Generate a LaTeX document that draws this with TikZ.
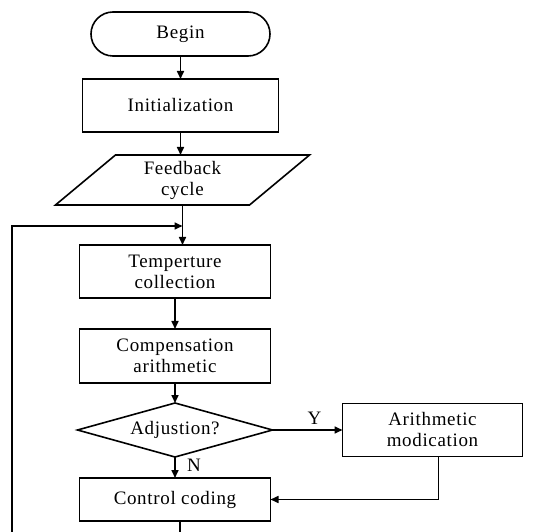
\documentclass[tikz,border=0pt]{standalone}
\usepackage{fontspec}
\setmainfont{Liberation Serif}[LetterSpace=3.5]
\usetikzlibrary{positioning, shapes.geometric, arrows.meta}

\begin{document}
\begin{tikzpicture}[x=1pt, y=-1pt, line width=1.6pt,
	font=\fontsize{19}{21}\selectfont,
	box/.style={rectangle, draw, align=center, minimum width=191pt, minimum height=53pt, inner sep=0pt, outer sep=0pt},
	arr/.style={-{Stealth[length=8pt, width=7pt, inset=0pt]}}]
	\useasboundingbox (0,0) rectangle (539,532);
	\node[draw, rounded corners=22pt, minimum width=179pt, minimum height=44pt, outer sep=0pt] (begin) at (180.5,34) {Begin};
	\node[box, minimum width=196pt, below=23pt of begin] (init) {Initialization};
	\node[box, draw=none, minimum width=194pt, minimum height=50pt, below=23pt of init, xshift=2pt] (feed) {Feedback\\cycle};
	\draw ([xshift=30pt]feed.north west) -- ([xshift=30pt]feed.north east) -- ([xshift=-30pt]feed.south east) -- ([xshift=-30pt]feed.south west) -- cycle;
	\node[box, below=40pt of feed, xshift=-7.5pt] (temp) {Temperture\\collection};
	\node[box, minimum height=54pt, below=31pt of temp] (comp) {Compensation\\arithmetic};
	\node[draw, diamond, aspect=3.6, minimum width=195pt, minimum height=54pt, inner sep=0pt, outer sep=0pt, below=20pt of comp] (dec) {Adjustion?};
	\node[box, minimum height=43pt, below=21pt of dec] (ctrl) {Control\ coding};
	\node[box, minimum width=180pt, right=70pt of dec] (arith) {Arithmetic\\modication};
	\coordinate (loop) at (feed.south |- 0,226);
	\coordinate (back) at (12,532);
	\coordinate (out) at ([xshift=5pt]ctrl.south |- 0,532);
	\draw[arr] (begin) -- (init);
	\draw[arr] (init) -- (init |- feed.north);
	\draw[arr] (feed.south) -- (feed.south |- temp.north);
	\draw[arr] (temp) -- (comp);
	\draw[arr] (comp) -- (dec);
	\draw[arr] (dec) -- node[above=1pt, pos=0.6] {Y} (arith);
	\draw[arr] (dec) -- node[right=8pt, pos=0.4] {N} (ctrl);
	\draw[arr] ([xshift=6pt]arith.south) |- (ctrl.east);
	\draw ([xshift=5pt]ctrl.south) -- (out);
	\draw[arr] (back) |- (loop);
\end{tikzpicture}
\end{document}
